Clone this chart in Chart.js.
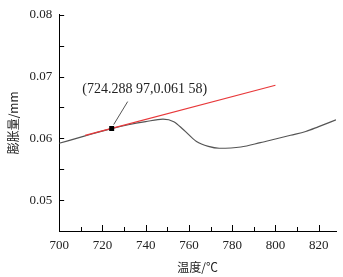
<!DOCTYPE html>
<html>
<head>
<meta charset="utf-8">
<script src="https://cdn.jsdelivr.net/npm/chart.js@4/dist/chart.umd.min.js"></script>
<style>
  html, body { margin: 0; padding: 0; background: #fff; }
  #wrap { width: 343px; height: 277px; }
</style>
</head>
<body>
<div id="wrap"><canvas id="myChart" width="343" height="277"></canvas></div>
<script>
// curve data
var tempX = [700, 712, 724.28897, 732, 740, 748, 753, 757.5, 763.5, 769, 774, 784, 793, 800, 807, 814, 820, 828];
var expY  = [0.0592, 0.0604, 0.06158, 0.0622, 0.0627, 0.0631, 0.0627, 0.0614, 0.0595, 0.0587, 0.0584, 0.0586, 0.0593, 0.0599, 0.0605, 0.0611, 0.0619, 0.0630];
// tangent line
var tangentX = [712, 800];
var tangentY = [0.06047, 0.0686];
// marked point
var markX = 724.28897;
var markY = 0.06158;
var markLabel = '(724.288 97,0.061 58)';
// tick labels
var xTickLabels = [700, 720, 740, 760, 780, 800, 820];
var yTickLabels = [0.05, 0.06, 0.07, 0.08];

var serif = '"Liberation Serif", "Times New Roman", serif';

function pts(xs, ys) {
  var out = [];
  for (var i = 0; i < xs.length; i++) out.push({x: xs[i], y: ys[i]});
  return out;
}

// ticks pointing into the plot + the annotation
const extras = {
  id: 'extras',
  afterDraw(chart) {
    const ctx = chart.ctx;
    const xs = chart.scales.x, ys = chart.scales.y;
    const a = chart.chartArea;
    ctx.save();
    ctx.strokeStyle = '#000';
    ctx.lineWidth = 1;
    ctx.beginPath();
    xs.ticks.forEach(function (t) {
      var px = Math.round(xs.getPixelForValue(t.value)) + 0.5;
      var len = xTickLabels.indexOf(t.value) >= 0 ? 6 : 4;
      ctx.moveTo(px, a.bottom);
      ctx.lineTo(px, a.bottom - len);
    });
    ys.ticks.forEach(function (t) {
      var py = Math.round(ys.getPixelForValue(t.value)) + 0.5;
      ctx.moveTo(a.left, py);
      ctx.lineTo(a.left + 5, py);
    });
    ctx.stroke();

    // leader line and label
    var px = xs.getPixelForValue(markX), py = ys.getPixelForValue(markY);
    ctx.strokeStyle = '#555';
    ctx.beginPath();
    ctx.moveTo(px + 2, py - 4);
    ctx.lineTo(px + 16, py - 27);
    ctx.stroke();
    ctx.fillStyle = '#222';
    ctx.font = '14px ' + serif;
    ctx.textAlign = 'center';
    ctx.textBaseline = 'middle';
    ctx.fillText(markLabel, px + 33, py - 39);
    ctx.restore();
  }
};

const data = {
  datasets: [{
    label: 'mark',
    data: pts([markX], [markY]),
    showLine: false,
    pointStyle: 'rect',
    pointRadius: 3.5,
    backgroundColor: '#000',
    borderColor: '#000',
    borderWidth: 0
  }, {
    label: 'tangent',
    data: pts(tangentX, tangentY),
    showLine: true,
    borderColor: '#e8383a',
    borderWidth: 1.2,
    pointRadius: 0
  }, {
    label: 'curve',
    data: pts(tempX, expY),
    showLine: true,
    borderColor: '#555',
    borderWidth: 1.2,
    pointRadius: 0,
    cubicInterpolationMode: 'monotone'
  }]
};

const config = {
  type: 'scatter',
  data,
  options: {
    responsive: false,
    animation: false,
    layout: { padding: { left: 6, right: 7, top: 12, bottom: 2 } },
    plugins: { legend: { display: false }, tooltip: { enabled: false } },
    scales: {
      x: {
        type: 'linear',
        min: 700,
        max: 828,
        grid: { display: true, drawOnChartArea: false, drawTicks: false },
        border: { display: true, color: '#000', width: 1 },
        ticks: {
          stepSize: 10,
          includeBounds: false,
          autoSkip: false,
          maxRotation: 0,
          padding: 7,
          color: '#222',
          font: { family: serif, size: 13 },
          callback: function (v) { return xTickLabels.indexOf(v) >= 0 ? String(v) : ''; }
        },
        title: {
          display: true,
          text: '温度/℃',
          color: '#222',
          font: { family: '"Noto Sans CJK SC", serif', size: 12 },
          padding: { top: 0, bottom: 0 }
        }
      },
      y: {
        type: 'linear',
        min: 0.045,
        max: 0.08,
        grid: { display: true, drawOnChartArea: false, drawTicks: false },
        border: { display: true, color: '#000', width: 1 },
        ticks: {
          stepSize: 0.005,
          autoSkip: false,
          padding: 7,
          color: '#222',
          font: { family: serif, size: 13 },
          callback: function (v) {
            for (var i = 0; i < yTickLabels.length; i++) {
              if (Math.abs(v - yTickLabels[i]) < 1e-6) return yTickLabels[i].toFixed(2);
            }
            return '';
          }
        },
        title: {
          display: true,
          text: '膨胀量/mm',
          color: '#222',
          font: { family: '"Noto Sans CJK SC", serif', size: 12 },
          padding: { top: 0, bottom: 2 }
        }
      }
    }
  },
  plugins: [extras]
};

const myChart = new Chart(document.getElementById('myChart'), config);
</script>
</body>
</html>
